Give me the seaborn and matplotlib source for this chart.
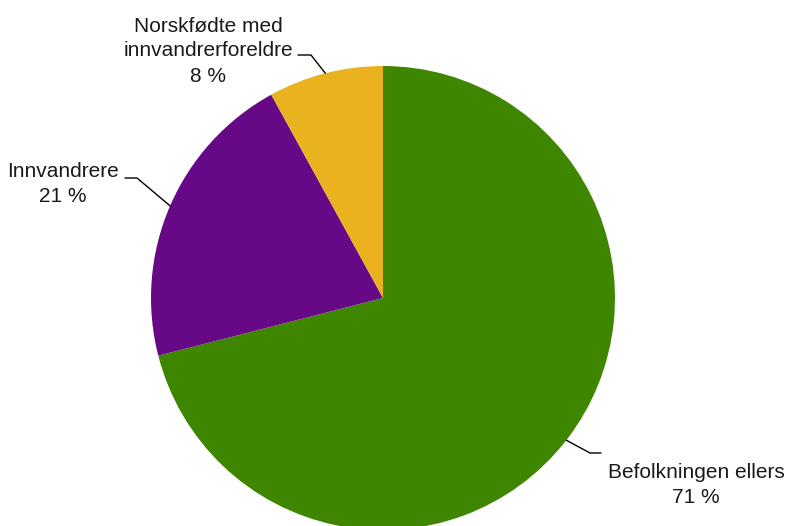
import numpy as np
import seaborn as sns
import matplotlib.pyplot as plt

# data
labels = ['Befolkningen ellers', 'Innvandrere', 'Norskfødte med\ninnvandrerforeldre']
shares = [71, 21, 8]
colors = ['#3e8600', '#670987', '#ebb220']

sns.set_style('white')
plt.rcParams['font.family'] = ['Liberation Sans', 'DejaVu Sans']

W, H = 787, 526
fig = plt.figure(figsize=(W / 100, H / 100), dpi=100)
ax = fig.add_axes([0, 0, 1, 1])

cx, cy, r = 383, H - 298, 232
wedges, _ = ax.pie(shares, colors=colors, startangle=90, counterclock=False,
                   center=(cx, cy), radius=r, wedgeprops=dict(linewidth=0))
ax.set_xlim(0, W)
ax.set_ylim(0, H)
ax.set_aspect('equal')
ax.axis('off')

# leader line elbows and text positions (pixel layout)
elbows = [((590, 453), (601, 453)), ((137, 178), (125, 178)), ((311, 55), (298, 55))]
text_pos = [(696, 485), (63, 184), (208, 51)]

for w, s, lab, (e1, e2), (tx, ty) in zip(wedges, shares, labels, elbows, text_pos):
    mid = np.deg2rad((w.theta1 + w.theta2) / 2)
    x0, y0 = cx + r * np.cos(mid), cy + r * np.sin(mid)
    ax.plot([x0, e1[0], e2[0]], [y0, H - e1[1], H - e2[1]], color='black', lw=1)
    ax.text(tx, H - ty, f'{lab}\n{s} %', ha='center', va='center',
            fontsize=15, color='#1a1a1a', linespacing=1.4)

fig.savefig('out.png', dpi=100)
